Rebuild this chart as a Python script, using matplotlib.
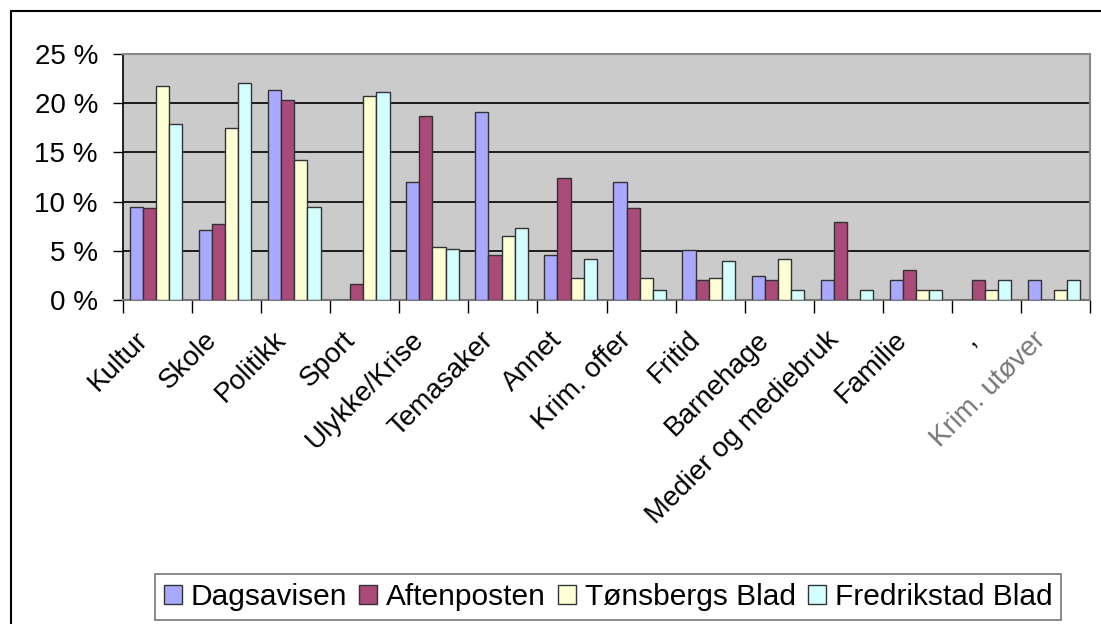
import numpy as np
import matplotlib
matplotlib.use("Agg")
import matplotlib.pyplot as plt
import matplotlib.transforms as mtransforms
from matplotlib.patches import Rectangle
from matplotlib.ticker import FuncFormatter, FixedLocator

plt.rcParams['font.family'] = ['Liberation Sans', 'DejaVu Sans']

# kategorier og andeler (%)
kategorier = ["Kultur", "Skole", "Politikk", "Sport", "Ulykke/Krise", "Temasaker",
              "Annet", "Krim. offer", "Fritid", "Barnehage", "Medier og mediebruk",
              "Familie", ",", "Krim. utøver"]
dagsavisen = [9.5, 7.1, 21.3, 0, 12.0, 19.1, 4.6, 12.0, 5.1, 2.4, 2.0, 2.0, 0, 2.0]
aftenposten = [9.3, 7.7, 20.3, 1.6, 18.7, 4.6, 12.4, 9.3, 2.0, 2.0, 7.9, 3.0, 2.0, 0]
tonsberg = [21.7, 17.5, 14.2, 20.7, 5.4, 6.5, 2.2, 2.2, 2.2, 4.2, 0, 1.0, 1.0, 1.0]
fredrikstad = [17.9, 22.1, 9.5, 21.1, 5.2, 7.3, 4.2, 1.0, 4.0, 1.0, 1.0, 1.0, 2.0, 2.0]

serier = [("Dagsavisen", dagsavisen, "#a9a9ff"),
          ("Aftenposten", aftenposten, "#aa4a78"),
          ("Tønsbergs Blad", tonsberg, "#ffffd6"),
          ("Fredrikstad Blad", fredrikstad, "#d4ffff")]

fig = plt.figure(figsize=(11.01, 6.24), dpi=100)
# ytre ramme
fig.patches.append(Rectangle((11 / 1101, -0.1), 1.2, 1 - 11 / 624 + 0.1, transform=fig.transFigure,
                             fill=False, edgecolor="black", linewidth=1.5))

ax = fig.add_axes([123 / 1101, 1 - 300 / 624, (1090 - 123) / 1101, (300 - 54) / 624])
ax.set_facecolor("#cbcbcb")

x = np.arange(len(kategorier))
w = 0.19
for i, (navn, verdier, farge) in enumerate(serier):
    ax.bar(x + (i - 1.5) * w - 0.02, verdier, w, color=farge, edgecolor="#333333",
           linewidth=1.0, label=navn, zorder=3)

ax.set_xlim(-0.5, len(kategorier) - 0.5)
ax.set_ylim(0, 25)
ax.set_yticks([0, 5, 10, 15, 20, 25])
ax.yaxis.set_major_formatter(FuncFormatter(lambda v, p: f"{int(v)} %"))
ax.yaxis.grid(True, color="black", linewidth=1.2, zorder=1)
ax.tick_params(axis="y", labelsize=20, length=7, width=1, direction="out", pad=11)

ax.xaxis.set_major_locator(FixedLocator(np.arange(len(kategorier) + 1) - 0.5))
ax.xaxis.set_minor_locator(FixedLocator(x))
ax.tick_params(axis="x", which="major", length=9, width=1, labelbottom=False)
ax.tick_params(axis="x", which="minor", length=0, labelsize=20)
ax.set_xticks(x, minor=True)
ax.set_xticklabels(kategorier, minor=True, rotation=45, ha="right", va="top",
                   rotation_mode="anchor")
offset = mtransforms.ScaledTranslation(-0.23, -0.22, fig.dpi_scale_trans)
for lbl in ax.get_xticklabels(minor=True):
    lbl.set_transform(lbl.get_transform() + offset)
    if lbl.get_text() == "Krim. utøver":
        lbl.set_color("#777777")

for side in ["top", "right"]:
    ax.spines[side].set_color("#888888")
    ax.spines[side].set_linewidth(1.5)
ax.spines["left"].set_linewidth(1.2)
ax.spines["bottom"].set_color("#777777")
ax.spines["bottom"].set_linewidth(1.5)

leg = fig.legend(loc="center", bbox_to_anchor=(608 / 1101, 1 - 597 / 624), ncol=4,
                 fontsize=21.5, frameon=True, fancybox=False, edgecolor="#555555",
                 handlelength=0.6, handleheight=0.6, handletextpad=0.3,
                 columnspacing=0.4, borderpad=0.3)
leg.get_frame().set_linewidth(1.2)

fig.savefig("out.png", dpi=100)
